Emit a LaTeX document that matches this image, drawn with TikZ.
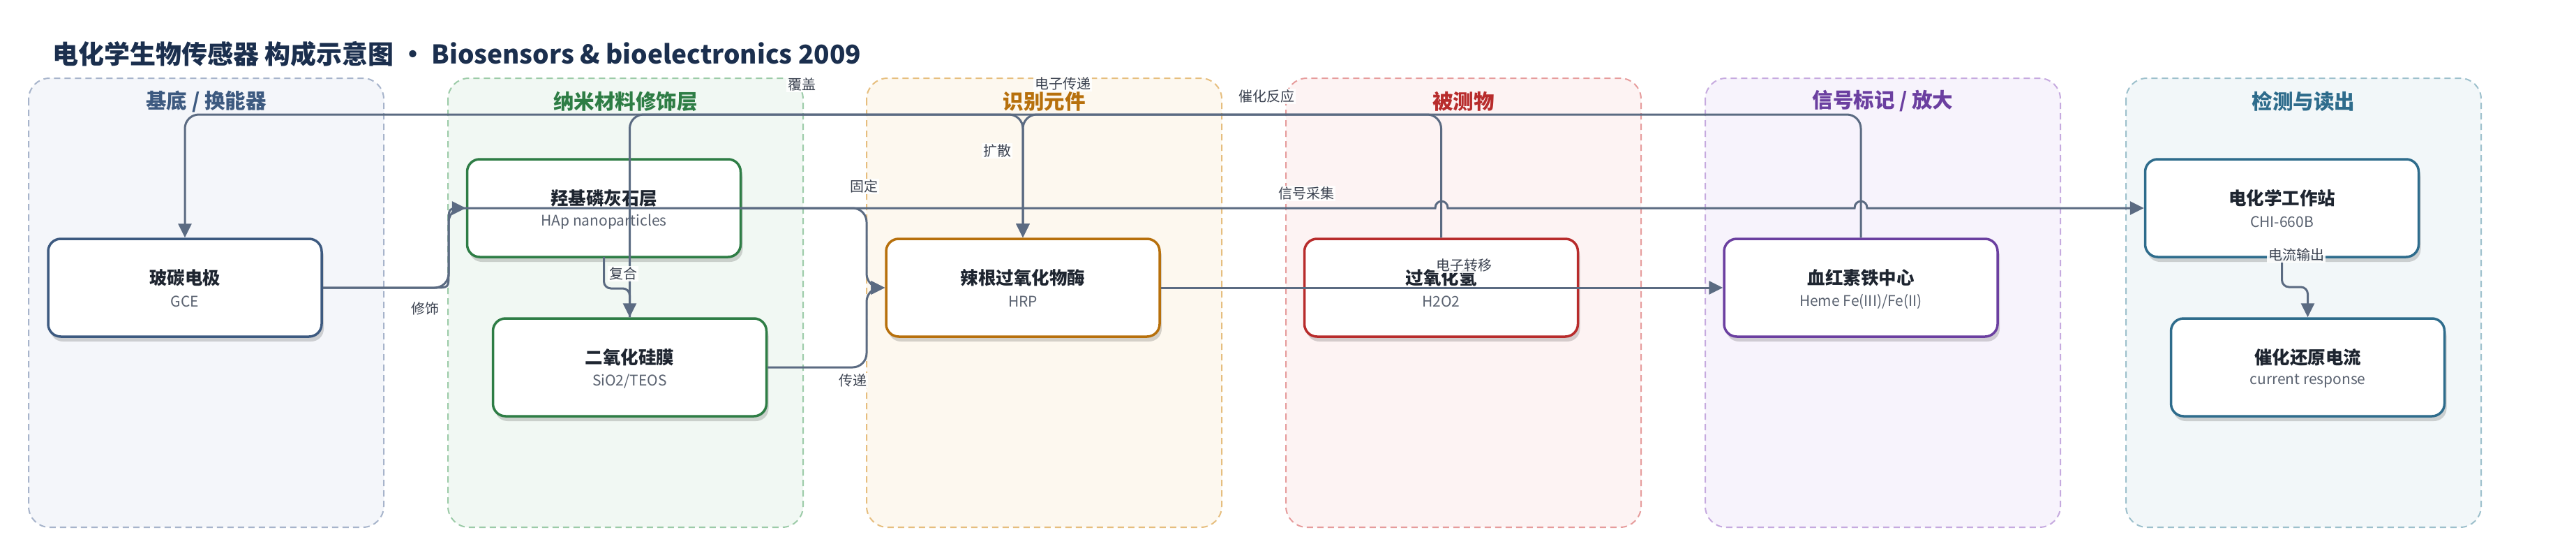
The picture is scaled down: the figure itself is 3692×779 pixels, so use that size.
\documentclass[tikz,border=0pt]{standalone}
\usepackage{fontspec}
\setmainfont{Noto Sans CJK SC}
\usetikzlibrary{arrows.meta,shadows}
\definecolor{titlec}{HTML}{1B2F4E}
\definecolor{edgec}{HTML}{5B6B82}
\definecolor{ntext}{HTML}{1E2530}
\definecolor{stext}{HTML}{5A6270}
\definecolor{ltext}{HTML}{3B4250}
\definecolor{gAfill}{HTML}{F4F6FA}\definecolor{gAdraw}{HTML}{A7B4CB}\definecolor{gAtext}{HTML}{3D5A80}
\definecolor{gBfill}{HTML}{F1F8F3}\definecolor{gBdraw}{HTML}{9CCBA8}\definecolor{gBtext}{HTML}{2E7D45}
\definecolor{gCfill}{HTML}{FDF8EF}\definecolor{gCdraw}{HTML}{E6BE7E}\definecolor{gCtext}{HTML}{B7700C}
\definecolor{gDfill}{HTML}{FDF3F3}\definecolor{gDdraw}{HTML}{E69C9C}\definecolor{gDtext}{HTML}{B82C2C}
\definecolor{gEfill}{HTML}{F7F3FC}\definecolor{gEdraw}{HTML}{C6AADF}\definecolor{gEtext}{HTML}{6B3FA0}
\definecolor{gFfill}{HTML}{F2F7F9}\definecolor{gFdraw}{HTML}{9DC0CC}\definecolor{gFtext}{HTML}{2E6C8C}
\tikzset{
  grpbox/.style={line width=2pt, dash pattern=on 9pt off 6pt, rounded corners=30pt},
  grptitle/.style={font=\fontsize{29.5}{33}\selectfont\bfseries},
  nodebox/.style={rectangle, rounded corners=18pt, line width=3.5pt, fill=white,
     minimum width=392pt, minimum height=140pt, inner sep=0pt,
     drop shadow={shadow xshift=3pt, shadow yshift=-7pt, opacity=0.16, fill=black}},
  ntitle/.style={font=\fontsize{25.5}{28}\selectfont\bfseries, text=ntext, inner sep=0pt},
  nsub/.style={font=\fontsize{21}{24}\selectfont, text=stext, inner sep=0pt},
  conn/.style={draw=edgec, line width=3pt, rounded corners=20pt, -{Triangle[length=20pt,width=19pt]}},
  elabel/.style={font=\fontsize{20}{22}\selectfont, text=ltext, fill=white, fill opacity=0.9, text opacity=1, inner sep=2pt}
}
\newcommand\bnode[6]{%
  \node[nodebox, draw=#4] (#1) at (#2,#3) {};
  \node[ntitle] (#1-t) at ([yshift=14pt]#1.center) {#5};
  \node[nsub] (#1-s) at ([yshift=-20pt]#1.center) {#6};
}
\newcommand\grpzone[6]{%
  \draw[grpbox, fill=#3, draw=#4] (#2,112) rectangle ++(509,643);
  \node[grptitle, text=#5] (#1) at ({#2+254.5},145) {#6};
}
\begin{document}
\begin{tikzpicture}[x=1pt,y=-1pt]
\useasboundingbox (0,0) rectangle (3692,779);
\fill[white] (0,0) rectangle (3692,779);
\node[anchor=west, font=\fontsize{37}{41}\selectfont\bfseries, text=titlec, inner sep=0pt] (title) at (75,77)
  {电化学生物传感器 构成示意图 • Biosensors \& bioelectronics 2009};

\grpzone{gA}{41}{gAfill}{gAdraw}{gAtext}{基底 / 换能器}
\grpzone{gB}{642}{gBfill}{gBdraw}{gBtext}{纳米材料修饰层}
\grpzone{gC}{1242}{gCfill}{gCdraw}{gCtext}{识别元件}
\grpzone{gD}{1843}{gDfill}{gDdraw}{gDtext}{被测物}
\grpzone{gE}{2444}{gEfill}{gEdraw}{gEtext}{信号标记 / 放大}
\grpzone{gF}{3047}{gFfill}{gFdraw}{gFtext}{检测与读出}

\bnode{gce}{265}{412}{gAtext}{玻碳电极}{GCE}
\bnode{hap}{865.5}{298}{gBtext}{羟基磷灰石层}{HAp nanoparticles}
\bnode{sio}{902.5}{526}{gBtext}{二氧化硅膜}{SiO2/TEOS}
\bnode{hrp}{1466}{412}{gCtext}{辣根过氧化物酶}{HRP}
\bnode{hoo}{2065.5}{412}{gDtext}{过氧化氢}{H2O2}
\bnode{heme}{2667}{412}{gEtext}{血红素铁中心}{Heme Fe(III)/Fe(II)}
\bnode{chi}{3270.5}{298}{gFtext}{电化学工作站}{CHI-660B}
\bnode{cur}{3307.5}{526}{gFtext}{催化还原电流}{current response}

% connectors
\draw[conn] (gce.east) -- (643,412) -- (643,298) -- (hap.west);
\draw[conn, sharp corners] (gce.east) -- (623,412) .. controls (643,412) .. (643,392)
   -- (643,318) .. controls (643,298) .. (663,298) -- (2057,298)
   .. controls (2057,285) and (2075,285) .. (2075,298) -- (2658,298)
   .. controls (2658,285) and (2676,285) .. (2676,298) -- (chi.west);
\draw[conn, rounded corners=10pt] (865.5,368) -- (865.5,413) -- (902.5,413) -- (sio.north);
\draw[conn] (hap.east) -- (1242,298) -- (1242,412) -- (hrp.west);
\draw[conn] (sio.east) -- (1242,526) -- (1242,412) -- (hrp.west);
\draw[conn] (sio.north) -- (902.5,164) -- (1466,164) -- (hrp.north);
\draw[conn] (hoo.north) -- (2065.5,164) -- (1466,164) -- (hrp.north);
\draw[conn] (heme.north) -- (2667,164) -- (265,164) -- (gce.north);
\draw[conn] (hrp.east) -- (heme.west);
\draw[conn, rounded corners=10pt] (chi.south) -- (3270.5,411) -- (3307.5,411) -- (cur.north);

% labels
\node[elabel] (l1) at (609,442) {修饰};
\node[elabel] (l2) at (893,392) {复合};
\node[elabel] (l3) at (1238,267) {固定};
\node[elabel] (l4) at (1222,545) {传递};
\node[elabel] (l5) at (1149,121) {覆盖};
\node[elabel] (l6) at (1523,120) {电子传递};
\node[elabel] (l7) at (1815,138) {催化反应};
\node[elabel] (l8) at (1429,216) {扩散};
\node[elabel] (l9) at (1872,277) {信号采集};
\node[elabel] (l10) at (2098,380) {电子转移};
\node[elabel] (l11) at (3291,365) {电流输出};
\end{tikzpicture}
\end{document}
